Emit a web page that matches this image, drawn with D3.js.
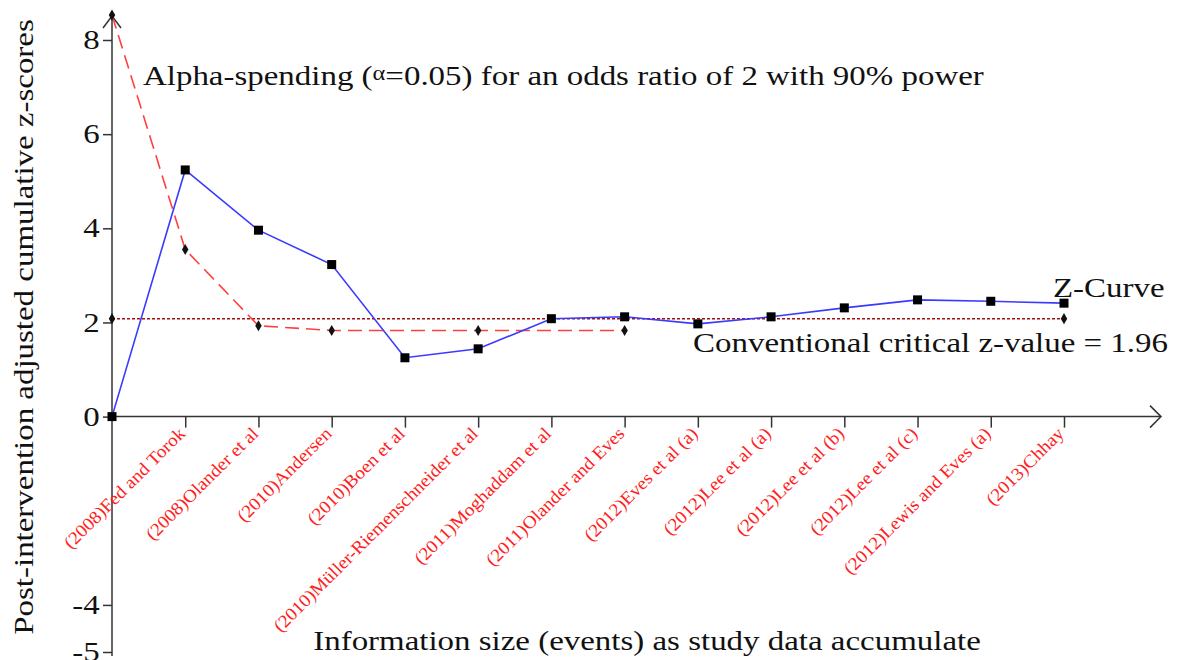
<!DOCTYPE html>
<html>
<head>
<meta charset="utf-8">
<script src="https://cdn.jsdelivr.net/npm/d3@7"></script>
<style>
  body { margin: 0; background: #fff; }
  svg text { font-family: "Liberation Serif", "Times New Roman", serif; }
</style>
</head>
<body>
<svg id="chart" width="1179" height="660"></svg>
<script>
// studies along the x axis (index 0 is the origin)
const studies = ["", "(2008)Fed and Torok", "(2008)Olander et al", "(2010)Andersen", "(2010)Boen et al",
  "(2010)Müller-Riemenschneider et al", "(2011)Moghaddam et al", "(2011)Olander and Eves",
  "(2012)Eves et al (a)", "(2012)Lee et al (a)", "(2012)Lee et al (b)", "(2012)Lee et al (c)",
  "(2012)Lewis and Eves (a)", "(2013)Chhay"];

// cumulative z-curve
const zCurve = [0, 5.24, 3.96, 3.23, 1.25, 1.44, 2.08, 2.12, 1.97, 2.12, 2.31, 2.48, 2.45, 2.41];

// alpha-spending boundary (stops at study 7)
const boundary = [8.53, 3.55, 1.93, 1.83, 1.83, 1.83, 1.83, 1.83];
const boundaryMarks = [0, 1, 2, 3, 5, 7];

// conventional line, as drawn in the picture
const criticalZ = 2.08;

const yTicks = [8, 6, 4, 2, 0, -4, -5];

const svg = d3.select("#chart");

let x = d3.scaleLinear().domain([0, 13]).range([112, 1064]);
let y = d3.scaleLinear().domain([-5, 8]).range([652, 40]);

const axisColor = "#333";
const stretch = 1.22; // the text in the picture is wider than Times

// y axis
let yAxis = svg.append("g")
  .attr("transform", `translate(${x(0)},0)`)
  .call(d3.axisLeft(y).tickValues(yTicks).tickSize(9).tickPadding(1).tickFormat(d => d));
yAxis.select(".domain").remove();
yAxis.selectAll("line").attr("stroke", axisColor).attr("stroke-width", 1.5);
yAxis.selectAll("text")
  .attr("fill", "#111")
  .attr("transform", `scale(${stretch},1)`)
  .style("font-size", "27px")
  .style("font-family", "Liberation Serif");

svg.append("line")
  .attr("x1", x(0)).attr("x2", x(0))
  .attr("y1", 656).attr("y2", 16)
  .attr("stroke", axisColor).attr("stroke-width", 1.5);
svg.append("path")
  .attr("d", `M${x(0) - 9},${28} L${x(0)},${16} L${x(0) + 9},${28}`)
  .attr("fill", "none").attr("stroke", axisColor).attr("stroke-width", 1.5);

// x axis
let xAxis = svg.append("g")
  .attr("transform", `translate(0,${y(0)})`)
  .call(d3.axisBottom(x).tickValues(d3.range(1, 14)).tickSize(11).tickFormat(""));
xAxis.select(".domain").remove();
xAxis.selectAll("line").attr("stroke", axisColor).attr("stroke-width", 1.5);

svg.append("line")
  .attr("x1", x(0)).attr("x2", 1160)
  .attr("y1", y(0)).attr("y2", y(0))
  .attr("stroke", axisColor).attr("stroke-width", 1.5);
svg.append("path")
  .attr("d", `M1150,${y(0) - 11} L1161,${y(0)} L1150,${y(0) + 11}`)
  .attr("fill", "none").attr("stroke", axisColor).attr("stroke-width", 1.5);

// rotated study labels
svg.append("g").selectAll("text")
  .data(studies.slice(1))
  .join("text")
  .attr("transform", (d, i) => `translate(${x(i + 1) + 1},${y(0) + 18}) rotate(-45) scale(1.07,1)`)
  .attr("text-anchor", "end")
  .attr("fill", "#ff2020")
  .style("font-size", "18px")
  .text(d => d);

// conventional critical line
svg.append("line")
  .attr("x1", x(0)).attr("x2", x(13))
  .attr("y1", y(criticalZ)).attr("y2", y(criticalZ))
  .attr("stroke", "#a01010").attr("stroke-width", 1.5)
  .attr("stroke-dasharray", "3,2");

let diamond = d3.symbol().type(d3.symbolDiamond).size(36);
svg.append("g").selectAll("path")
  .data([0, 13])
  .join("path")
  .attr("d", diamond)
  .attr("transform", d => `translate(${x(d)},${y(criticalZ)})`)
  .attr("fill", "#111");

// alpha-spending boundary
let line = d3.line().x((d, i) => x(i)).y(d => y(d));
svg.append("path")
  .datum(boundary)
  .attr("d", line)
  .attr("fill", "none")
  .attr("stroke", "#ff4040")
  .attr("stroke-width", 1.6)
  .attr("stroke-dasharray", "14,7");

svg.append("g").selectAll("path")
  .data(boundaryMarks)
  .join("path")
  .attr("d", diamond)
  .attr("transform", d => `translate(${x(d)},${y(boundary[d])})`)
  .attr("fill", "#111");

// z-curve
svg.append("path")
  .datum(zCurve)
  .attr("d", line)
  .attr("fill", "none")
  .attr("stroke", "#3a3aff")
  .attr("stroke-width", 1.6);

svg.append("g").selectAll("rect")
  .data(zCurve)
  .join("rect")
  .attr("x", (d, i) => x(i) - 4.5)
  .attr("y", d => y(d) - 4.5)
  .attr("width", 9)
  .attr("height", 9)
  .attr("fill", "#000");

// texts
let title = svg.append("text")
  .attr("transform", `translate(143,85) scale(${stretch},1)`)
  .attr("fill", "#111")
  .style("font-size", "27px");
title.append("tspan").text("Alpha-spending (");
title.append("tspan").attr("dy", -5).style("font-size", "20px").text("α");
title.append("tspan").attr("dy", 5).text("=0.05) for an odds ratio of 2 with 90% power");

svg.append("text")
  .attr("transform", `translate(1053,297) scale(${stretch},1)`)
  .attr("fill", "#111")
  .style("font-size", "27px")
  .text("Z-Curve");

svg.append("text")
  .attr("transform", `translate(1168,352) scale(${stretch},1)`)
  .attr("text-anchor", "end")
  .attr("fill", "#111")
  .style("font-size", "27px")
  .text("Conventional critical z-value = 1.96");

svg.append("text")
  .attr("transform", `translate(33,327) rotate(-90) scale(${stretch},1)`)
  .attr("text-anchor", "middle")
  .attr("fill", "#111")
  .style("font-size", "27px")
  .text("Post-intervention adjusted cumulative z-scores");

svg.append("text")
  .attr("transform", `translate(647,650) scale(${stretch},1)`)
  .attr("text-anchor", "middle")
  .attr("fill", "#111")
  .style("font-size", "27px")
  .text("Information size (events) as study data accumulate");
</script>
</body>
</html>
